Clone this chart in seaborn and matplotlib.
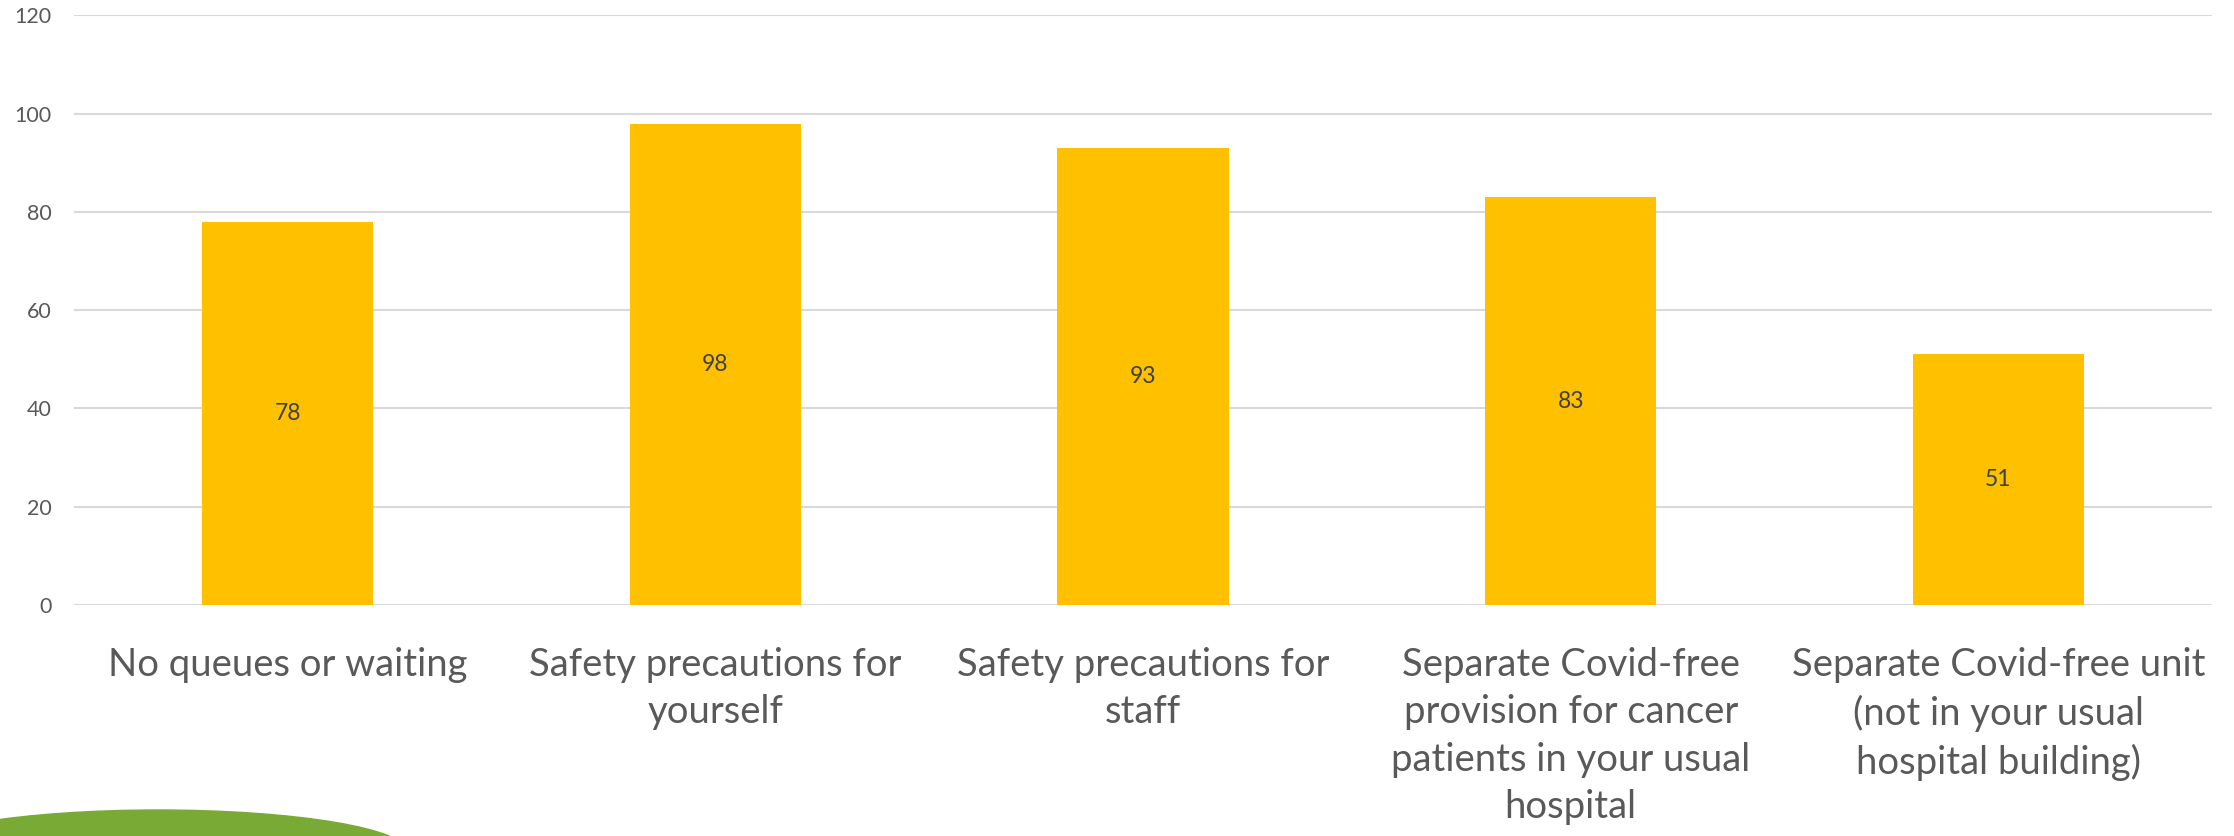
import numpy as np
import pandas as pd
import matplotlib
matplotlib.use("Agg")
import matplotlib.pyplot as plt
from matplotlib.patches import Ellipse
import seaborn as sns

# data
categories = [
    "No queues or waiting",
    "Safety precautions for\nyourself",
    "Safety precautions for\nstaff",
    "Separate Covid-free\nprovision for cancer\npatients in your usual\nhospital",
    "Separate Covid-free unit\n(not in your usual\nhospital building)",
]
values = [78, 98, 93, 83, 51]
y_ticks = [0, 20, 40, 60, 80, 100, 120]

df = pd.DataFrame({"category": categories, "value": values})

sns.set_style("white")
plt.rcParams["font.family"] = ["Lato", "DejaVu Sans"]

fig = plt.figure(figsize=(22.34, 8.36), dpi=100)
ax = fig.add_axes([0.0331, 0.2763, 0.9571, 0.7052])

sns.barplot(data=df, x="category", y="value", color="#FFC000", width=0.4,
            saturation=1, linewidth=0, ax=ax, zorder=3)

ax.bar_label(ax.containers[0], label_type="center", fontsize=16.5, color="#404040")

ax.set_ylim(0, 120)
ax.set_yticks(y_ticks)
ax.yaxis.grid(True, color="#D9D9D9", linewidth=1.5, zorder=0)
ax.set_axisbelow(True)
for s in ax.spines.values():
    s.set_visible(False)
ax.tick_params(axis="y", length=0, pad=16, labelsize=15.5, labelcolor="#595959")
ax.tick_params(axis="x", length=0, pad=30, labelsize=27.5, labelcolor="#595959")
for lbl in ax.get_xticklabels():
    lbl.set_linespacing(1.4)
ax.set_xlabel("")
ax.set_ylabel("")
ax.set_xlim(-0.5, len(categories) - 0.5)

# decorative green shape at the bottom left
fig.patches.append(Ellipse((158 / 2234, -16 / 836), 500 / 2234, 84 / 836,
                           transform=fig.transFigure, color="#7AAA36", zorder=0))

fig.savefig("out.png", dpi=100)
